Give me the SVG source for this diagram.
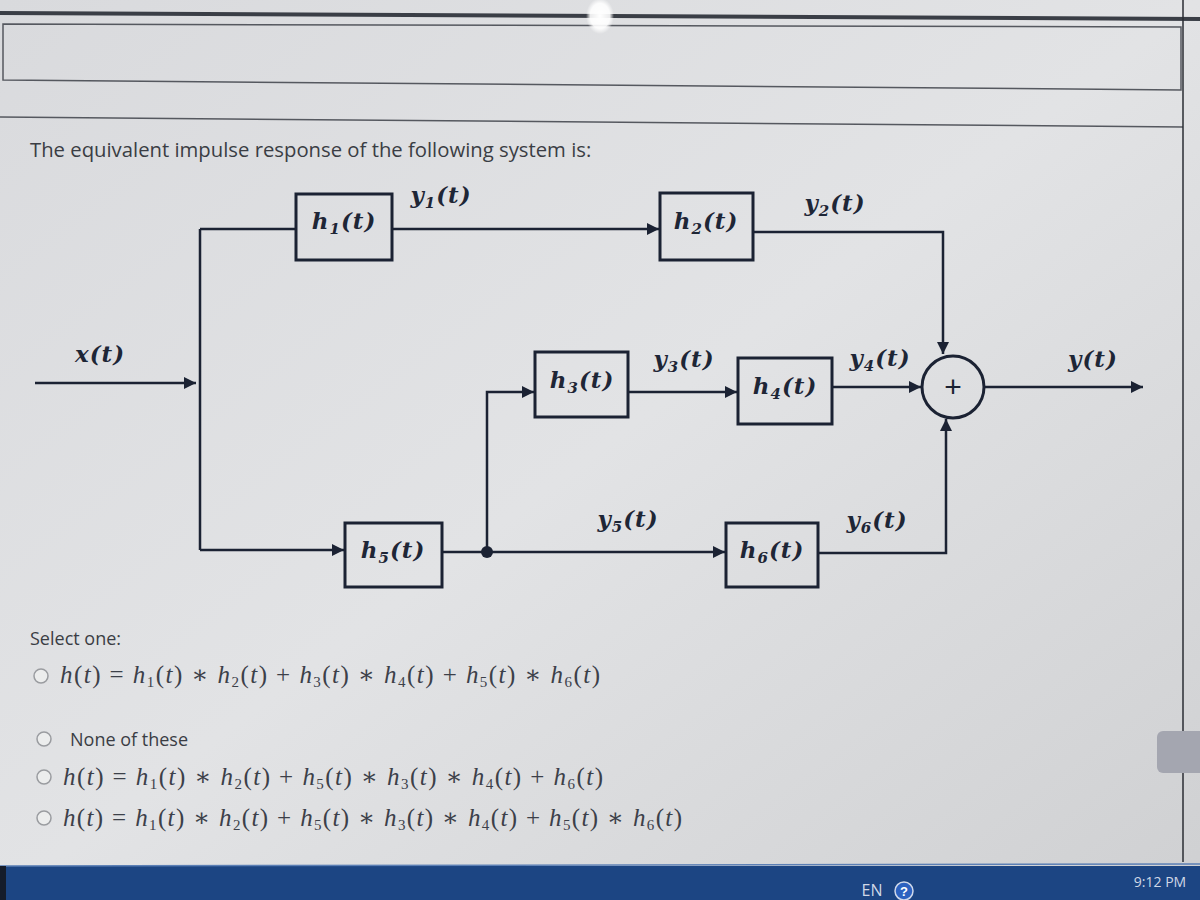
<svg xmlns="http://www.w3.org/2000/svg" width="1200" height="900" viewBox="0 0 1200 900">
<defs>
<linearGradient id="bg" x1="0" y1="0" x2="1" y2="1">
<stop offset="0" stop-color="#d9dadd"/>
<stop offset="0.5" stop-color="#e2e3e5"/>
<stop offset="1" stop-color="#cfd0d2"/>
</linearGradient>
<radialGradient id="glare" cx="0.5" cy="0.5" r="0.5">
<stop offset="0" stop-color="#ffffff"/>
<stop offset="0.7" stop-color="#ffffff" stop-opacity="0.9"/>
<stop offset="1" stop-color="#ffffff" stop-opacity="0"/>
</radialGradient>
<marker id="arr" viewBox="0 0 10 10" refX="10" refY="5" markerWidth="14" markerHeight="12" markerUnits="userSpaceOnUse" orient="auto">
<path d="M0,0 L10,5 L0,10 z" fill="#1b2233"/>
</marker>
<style>
.ln{stroke:#1b2233;stroke-width:2.5;fill:none}
.box{stroke:#1b2233;stroke-width:3;fill:none}
.lbl{font-family:"DejaVu Serif","Liberation Serif",serif;font-style:italic;font-weight:bold;font-size:23px;letter-spacing:1px;fill:#1e2636}
.lbl tspan.s{font-size:15px}
.ui{font-family:"Open Sans","Noto Sans",sans-serif;fill:#3a3d44}
.math{font-family:"Liberation Serif","DejaVu Serif",serif;font-style:italic;font-size:25px;fill:#3c4049}
.up{font-style:normal}
.radio{fill:#eceded;stroke:#9a9ca0;stroke-width:1.5}
</style>
</defs>
<rect width="1200" height="900" fill="url(#bg)"/>
<!-- top page remnants -->
<path d="M0,13 L1200,19" stroke="#3a3e46" stroke-width="4"/>
<path d="M3,24 L1181,27 L1181,90 L3,80 Z" fill="none" stroke="#55585f" stroke-width="1.5"/>
<path d="M0,117 L1183,127" stroke="#55585f" stroke-width="1.5"/>
<path d="M1183,0 L1183,862" stroke="#2a2d33" stroke-width="1.5"/>
<ellipse cx="600" cy="16" rx="14" ry="18" fill="url(#glare)"/>
<rect x="1157" y="731" width="50" height="42" rx="6" fill="#a4a6b0"/>

<text class="ui" x="30" y="157" font-size="20.3">The equivalent impulse response of the following system is:</text>

<g id="connectors">
<path class="ln" d="M35,383 L196,383" marker-end="url(#arr)"/>
<path class="ln" d="M200,229 L200,550"/>
<path class="ln" d="M200,229 L296,229"/>
<path class="ln" d="M200,550 L344,550" marker-end="url(#arr)"/>
<path class="ln" d="M392,229 L659,229" marker-end="url(#arr)"/>
<path class="ln" d="M753,232 L943,232 L943,354" marker-end="url(#arr)"/>
<path class="ln" d="M442,552 L725,552" marker-end="url(#arr)"/>
<path class="ln" d="M487,552 L487,392 L534,392" marker-end="url(#arr)"/>
<circle cx="487" cy="552" r="6" fill="#1b2233"/>
<path class="ln" d="M628,392 L737,392" marker-end="url(#arr)"/>
<path class="ln" d="M832,387 L921,387" marker-end="url(#arr)"/>
<path class="ln" d="M818,553 L946,553 L946,419" marker-end="url(#arr)"/>
<path class="ln" d="M985,387 L1143,387" marker-end="url(#arr)"/>
</g>

<g id="h1"><rect class="box" x="296" y="194" width="96" height="66"/><text class="lbl" x="344" y="229" text-anchor="middle">h<tspan class="s" dy="5">1</tspan><tspan dy="-5">(t)</tspan></text></g>
<g id="h2"><rect class="box" x="660" y="193" width="93" height="67"/><text class="lbl" x="706" y="229" text-anchor="middle">h<tspan class="s" dy="5">2</tspan><tspan dy="-5">(t)</tspan></text></g>
<g id="h3"><rect class="box" x="535" y="352" width="93" height="65"/><text class="lbl" x="582" y="388" text-anchor="middle">h<tspan class="s" dy="5">3</tspan><tspan dy="-5">(t)</tspan></text></g>
<g id="h4"><rect class="box" x="738" y="358" width="94" height="66"/><text class="lbl" x="785" y="394" text-anchor="middle">h<tspan class="s" dy="5">4</tspan><tspan dy="-5">(t)</tspan></text></g>
<g id="h5"><rect class="box" x="345" y="523" width="97" height="64"/><text class="lbl" x="393" y="558" text-anchor="middle">h<tspan class="s" dy="5">5</tspan><tspan dy="-5">(t)</tspan></text></g>
<g id="h6"><rect class="box" x="726" y="523" width="92" height="64"/><text class="lbl" x="772" y="558" text-anchor="middle">h<tspan class="s" dy="5">6</tspan><tspan dy="-5">(t)</tspan></text></g>
<g id="sum"><circle cx="953" cy="387" r="31" fill="none" stroke="#1b2233" stroke-width="3"/><text x="953" y="397" text-anchor="middle" font-family="Liberation Sans,sans-serif" font-size="30" fill="#1b2233">+</text></g>

<g id="labels">
<text class="lbl" x="100" y="362" text-anchor="middle">x(t)</text>
<text class="lbl" x="441" y="203" text-anchor="middle">y<tspan class="s" dy="5">1</tspan><tspan dy="-5">(t)</tspan></text>
<text class="lbl" x="835" y="211" text-anchor="middle">y<tspan class="s" dy="5">2</tspan><tspan dy="-5">(t)</tspan></text>
<text class="lbl" x="684" y="367" text-anchor="middle">y<tspan class="s" dy="5">3</tspan><tspan dy="-5">(t)</tspan></text>
<text class="lbl" x="880" y="366" text-anchor="middle">y<tspan class="s" dy="5">4</tspan><tspan dy="-5">(t)</tspan></text>
<text class="lbl" x="1093" y="367" text-anchor="middle">y(t)</text>
<text class="lbl" x="628" y="527" text-anchor="middle">y<tspan class="s" dy="5">5</tspan><tspan dy="-5">(t)</tspan></text>
<text class="lbl" x="877" y="528" text-anchor="middle">y<tspan class="s" dy="5">6</tspan><tspan dy="-5">(t)</tspan></text>
</g>

<g id="options">
<text class="ui" x="30" y="645" font-size="18">Select one:</text>
<circle class="radio" cx="41" cy="676" r="7"/>
<text class="math" x="60" y="683" textLength="540" lengthAdjust="spacing">h<tspan class="up">(</tspan>t<tspan class="up">) = </tspan>h<tspan font-size="15" dy="4" class="up">1</tspan><tspan dy="-4" class="up">(</tspan>t<tspan class="up">) ∗ </tspan>h<tspan font-size="15" dy="4" class="up">2</tspan><tspan dy="-4" class="up">(</tspan>t<tspan class="up">) + </tspan>h<tspan font-size="15" dy="4" class="up">3</tspan><tspan dy="-4" class="up">(</tspan>t<tspan class="up">) ∗ </tspan>h<tspan font-size="15" dy="4" class="up">4</tspan><tspan dy="-4" class="up">(</tspan>t<tspan class="up">) + </tspan>h<tspan font-size="15" dy="4" class="up">5</tspan><tspan dy="-4" class="up">(</tspan>t<tspan class="up">) ∗ </tspan>h<tspan font-size="15" dy="4" class="up">6</tspan><tspan dy="-4" class="up">(</tspan>t<tspan class="up">)</tspan></text>
<circle class="radio" cx="44" cy="739" r="7"/>
<text class="ui" x="70" y="746" font-size="18">None of these</text>
<circle class="radio" cx="44" cy="777" r="7"/>
<text class="math" x="63" y="785" textLength="540" lengthAdjust="spacing">h<tspan class="up">(</tspan>t<tspan class="up">) = </tspan>h<tspan font-size="15" dy="4" class="up">1</tspan><tspan dy="-4" class="up">(</tspan>t<tspan class="up">) ∗ </tspan>h<tspan font-size="15" dy="4" class="up">2</tspan><tspan dy="-4" class="up">(</tspan>t<tspan class="up">) + </tspan>h<tspan font-size="15" dy="4" class="up">5</tspan><tspan dy="-4" class="up">(</tspan>t<tspan class="up">) ∗ </tspan>h<tspan font-size="15" dy="4" class="up">3</tspan><tspan dy="-4" class="up">(</tspan>t<tspan class="up">) ∗ </tspan>h<tspan font-size="15" dy="4" class="up">4</tspan><tspan dy="-4" class="up">(</tspan>t<tspan class="up">) + </tspan>h<tspan font-size="15" dy="4" class="up">6</tspan><tspan dy="-4" class="up">(</tspan>t<tspan class="up">)</tspan></text>
<circle class="radio" cx="44" cy="818" r="7"/>
<text class="math" x="63" y="826" textLength="619" lengthAdjust="spacing">h<tspan class="up">(</tspan>t<tspan class="up">) = </tspan>h<tspan font-size="15" dy="4" class="up">1</tspan><tspan dy="-4" class="up">(</tspan>t<tspan class="up">) ∗ </tspan>h<tspan font-size="15" dy="4" class="up">2</tspan><tspan dy="-4" class="up">(</tspan>t<tspan class="up">) + </tspan>h<tspan font-size="15" dy="4" class="up">5</tspan><tspan dy="-4" class="up">(</tspan>t<tspan class="up">) ∗ </tspan>h<tspan font-size="15" dy="4" class="up">3</tspan><tspan dy="-4" class="up">(</tspan>t<tspan class="up">) ∗ </tspan>h<tspan font-size="15" dy="4" class="up">4</tspan><tspan dy="-4" class="up">(</tspan>t<tspan class="up">) + </tspan>h<tspan font-size="15" dy="4" class="up">5</tspan><tspan dy="-4" class="up">(</tspan>t<tspan class="up">) ∗ </tspan>h<tspan font-size="15" dy="4" class="up">6</tspan><tspan dy="-4" class="up">(</tspan>t<tspan class="up">)</tspan></text>
</g>

<g id="taskbar">
<rect x="0" y="866" width="1200" height="34" fill="#1c4583"/>
<path d="M0,866 L1200,864" stroke="#5b7fb5" stroke-width="1.5"/>
<rect x="0" y="866" width="6" height="34" fill="#151c2a"/>
<text x="872" y="896" font-family="Open Sans,sans-serif" font-size="16" fill="#d0d8e6" text-anchor="middle">EN</text>
<circle cx="904" cy="891" r="9" fill="#2d62c0" stroke="#cfd8ea" stroke-width="1.5"/>
<text x="904" y="896" font-family="Liberation Sans,sans-serif" font-size="13" font-weight="bold" fill="#ffffff" text-anchor="middle">?</text>
<text x="1160" y="887" font-family="Open Sans,sans-serif" font-size="14" fill="#d0d8e6" text-anchor="middle">9:12 PM</text>
</g>
</svg>
